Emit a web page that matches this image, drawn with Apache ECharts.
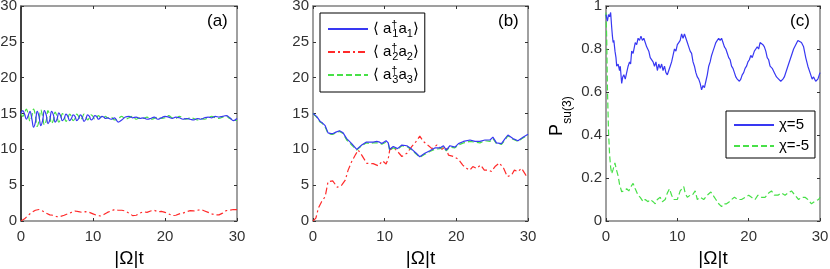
<!DOCTYPE html>
<html>
<head>
<meta charset="utf-8">
<script src="https://cdn.jsdelivr.net/npm/echarts@6/dist/echarts.min.js"></script>
<style>html,body{margin:0;padding:0;background:#fff;}#c{width:830px;height:269px;}</style>
</head>
<body>
<div id="c"></div>
<script>
// ---------- DATA ----------
const xTicks = [0, 10, 20, 30];
// Panel (a): shared time axis
const tA = [0,0.25,0.5,0.75,1,1.25,1.5,1.75,2,2.25,2.5,2.75,3,3.25,3.5,3.75,4,4.25,4.5,4.75,5,5.25,5.5,5.75,6,6.25,6.5,6.75,7,7.25,7.5,7.75,8,8.25,8.5,8.75,9,9.25,9.5,9.75,10,10.25,10.5,10.75,11,11.25,11.5,11.75,12,
  12.5,13,13.5,14,14.5,15,15.5,16,16.5,17,17.5,18,18.5,19,19.5,20,20.5,21,21.5,22,22.5,23,23.5,24,24.5,25,25.5,26,26.5,27,27.5,28,28.5,29,29.5,30];
const a1A = [15.0,15.4,14.9,14.2, 14.7,15.3,14.3,13.1, 13.8,15.3,14.6,13.3, 14.0,15.4,14.8,13.6, 14.1,15.3,14.8,13.8, 14.2,15.1,14.7,14.0, 14.3,14.9,14.6,14.0, 14.3,14.8,14.6,14.0, 14.3,14.8,14.5,13.9, 14.2,14.8,14.6,14.1, 14.3,14.7,14.6,14.2, 14.4,14.6,14.5,14.3, 14.4,
  14.2,14.4,13.8,14.1,14.5,14.6,14.4,14.5,14.3,14.4,14.2,14.3,14.5,14.2,14.4,14.6,14.5,14.3,14.5,14.4,14.2,14.3,14.2,14.1,14.3,14.2,14.4,14.5,14.4,14.6,14.5,14.6,14.7,14.4,14.0,14.3];
const a3A = [15.0,14.6,15.1,15.6, 14.9,13.9,14.6,15.6, 14.7,13.2,14.0,15.5, 14.6,13.4,14.0,15.4, 14.7,13.6,14.1,15.2, 14.6,13.8,14.2,15.0, 14.6,13.9,14.3,14.9, 14.6,14.0,14.3,14.9, 14.6,14.1,14.4,14.9, 14.6,14.1,14.4,14.8, 14.6,14.2,14.4,14.7, 14.5,14.3,14.4,14.6, 14.4,
  14.5,14.1,14.3,14.6,14.2,14.4,14.6,14.2,14.4,14.3,14.5,14.2,14.3,14.5,14.3,14.4,14.7,14.4,14.3,14.6,14.4,14.2,14.4,14.3,14.1,14.3,14.2,14.4,14.6,14.4,14.3,14.5,14.6,14.3,14.1,14.0];
const a2A = [[0,0],[0.5,0.3],[1,0.8],[1.5,1.2],[2,1.5],[2.5,1.6],[3,1.4],[3.5,1.1],[4,0.85],[4.5,0.8],[5,0.6],[5.5,0.65],[6,0.8],[6.5,1.0],[7,1.2],[7.5,1.4],[8,1.3],[8.5,1.2],[9,1.3],[9.5,1.2],[10,1.0],[10.5,0.8],[11,0.7],[11.5,0.9],[12,1.2],[12.5,1.4],[13,1.6],[13.5,1.5],[14,1.5],[14.5,1.4],[15,1.1],[15.5,0.75],[16,0.8],[16.5,1.1],[17,1.3],[17.5,1.2],[18,1.4],[18.5,1.5],[19,1.3],[19.5,1.35],[20,1.2],[20.5,1.0],[21,0.75],[21.5,0.8],[22,1.0],[22.5,1.1],[23,1.3],[23.5,1.45],[24,1.4],[24.5,1.5],[25,1.6],[25.5,1.4],[26,1.2],[26.5,1.0],[27,0.85],[27.5,0.85],[28,1.1],[28.5,1.45],[29,1.5],[29.5,1.6],[30,1.6]];

// Panel (b)
const tB = [0,0.5,1.0,1.3,1.7,2.1,2.5,2.8,3.2,3.7,4.2,4.7,5.4,6.1,6.8,7.4,7.9,8.4,8.9,9.3,9.6,10.2,10.5,10.7,11.2,11.8,12.4,13.1,13.8,14.4,14.9,15.6,16.3,17.0,17.7,18.2,18.6,19.1,19.8,20.3,21.0,21.9,22.6,23.3,24.0,24.7,25.1,25.6,26.3,26.8,27.2,27.9,28.6,29.3,30.0];
const a1B = [15.0,14.6,13.9,13.7,13.3,12.3,12.2,12.2,12.4,12.6,12.3,11.5,10.8,10.0,10.6,11.0,11.0,11.0,11.1,11.0,10.8,11.2,10.9,10.0,10.4,10.1,10.6,10.5,10.0,9.45,8.97,9.45,9.8,10.2,10.2,10.5,9.9,10.5,10.3,10.8,11.1,11.3,11.1,11.1,11.3,11.3,11.7,10.9,10.8,11.5,12.0,11.5,11.2,11.7,12.1];
const a3B = [15.0,14.5,13.8,13.6,13.1,12.2,12.1,12.1,12.3,12.5,12.2,11.3,10.6,9.9,10.5,10.9,10.8,10.9,10.9,10.9,10.7,11.0,10.8,9.8,10.2,10.0,10.5,10.4,9.9,9.35,8.9,9.3,9.7,10.0,10.1,10.3,9.8,10.3,10.2,10.6,10.9,11.1,11.0,10.9,11.2,11.1,11.5,10.8,10.7,11.3,11.9,11.4,11.1,11.6,12.0];
const a2B = [[0,0],[0.4,0.4],[0.75,1.8],[1.2,2.7],[1.7,3.4],[2.1,5.5],[2.75,5.6],[3.4,4.7],[4.0,5.0],[4.5,5.7],[4.9,7.1],[5.4,8.3],[5.9,9.2],[6.3,9.9],[6.8,9.2],[7.5,8.05],[8.4,8.0],[9.1,7.7],[9.7,8.4],[10.2,7.95],[10.5,8.7],[10.7,9.9],[11.2,10.3],[11.8,9.7],[12.4,9.0],[13.1,9.45],[13.8,10.4],[14.4,11.1],[14.9,11.85],[15.4,11.1],[16.0,10.6],[16.6,10.1],[17.3,10.6],[18.0,10.0],[18.5,10.4],[18.9,9.2],[19.6,9.0],[20.3,8.6],[20.9,7.8],[21.4,7.35],[21.9,7.1],[22.3,7.6],[22.8,7.35],[23.4,7.8],[23.9,7.1],[24.5,7.1],[24.9,6.9],[25.4,7.6],[26.0,8.1],[26.6,7.35],[27.1,6.2],[27.7,6.4],[28.1,7.1],[28.6,6.9],[29.1,7.35],[29.7,6.4],[30,6.2]];

// Panel (c)
const pPlus = [[0,0.96],[0.2,0.93],[0.35,0.96],[0.5,0.95],[0.65,0.97],[0.8,0.90],[0.9,0.86],[1.0,0.83],[1.1,0.84],[1.26,0.79],[1.4,0.76],[1.5,0.72],[1.7,0.73],[1.9,0.70],[2.0,0.72],[2.2,0.64],[2.35,0.67],[2.5,0.68],[2.7,0.66],[2.9,0.69],[3.1,0.72],[3.3,0.74],[3.45,0.73],[3.6,0.79],[3.8,0.78],[4.1,0.83],[4.3,0.82],[4.5,0.85],[4.7,0.84],[4.9,0.86],[5.1,0.84],[5.3,0.85],[5.5,0.83],[5.7,0.81],[6.0,0.79],[6.2,0.76],[6.4,0.76],[6.6,0.74],[6.8,0.72],[7.0,0.74],[7.2,0.70],[7.4,0.73],[7.6,0.71],[7.8,0.73],[8.0,0.70],[8.2,0.72],[8.4,0.69],[8.6,0.68],[8.8,0.70],[9.0,0.72],[9.2,0.74],[9.4,0.77],[9.6,0.80],[9.8,0.79],[10.0,0.82],[10.2,0.83],[10.4,0.84],[10.6,0.87],[10.8,0.85],[11.0,0.87],[11.2,0.85],[11.4,0.83],[11.6,0.81],[11.8,0.79],[12.0,0.78],[12.2,0.74],[12.4,0.72],[12.6,0.69],[12.8,0.67],[13.0,0.66],[13.2,0.64],[13.4,0.61],[13.6,0.63],[13.8,0.62],[14.0,0.65],[14.2,0.68],[14.4,0.72],[14.6,0.74],[14.8,0.77],[15.0,0.79],[15.2,0.81],[15.4,0.83],[15.6,0.84],[15.8,0.85],[16.0,0.84],[16.2,0.85],[16.4,0.83],[16.6,0.81],[16.8,0.80],[17.0,0.78],[17.2,0.76],[17.4,0.75],[17.6,0.72],[17.8,0.71],[18.0,0.69],[18.2,0.67],[18.4,0.66],[18.7,0.65],[18.9,0.66],[19.1,0.68],[19.3,0.69],[19.5,0.71],[19.7,0.72],[19.9,0.74],[20.1,0.75],[20.3,0.77],[20.5,0.76],[20.8,0.79],[21.0,0.80],[21.2,0.81],[21.4,0.80],[21.6,0.83],[21.8,0.83],[22.0,0.82],[22.2,0.81],[22.4,0.79],[22.6,0.76],[22.8,0.75],[23.0,0.72],[23.3,0.71],[23.6,0.69],[23.9,0.67],[24.2,0.66],[24.5,0.65],[24.8,0.66],[25.0,0.67],[25.3,0.70],[25.6,0.73],[26.0,0.77],[26.3,0.80],[26.6,0.82],[26.9,0.84],[27.1,0.84],[27.4,0.83],[27.7,0.81],[28.0,0.76],[28.3,0.72],[28.6,0.69],[28.9,0.66],[29.1,0.67],[29.4,0.65],[29.7,0.66],[30.0,0.69]];
const pMinus = [[0,0.97],[0.1,0.85],[0.2,0.62],[0.35,0.42],[0.5,0.31],[0.65,0.25],[0.8,0.22],[1.0,0.24],[1.25,0.27],[1.45,0.24],[1.7,0.21],[1.9,0.17],[2.2,0.136],[2.5,0.14],[2.9,0.15],[3.2,0.14],[3.5,0.16],[3.8,0.175],[4.1,0.15],[4.5,0.12],[4.8,0.11],[5.2,0.09],[5.5,0.10],[5.9,0.09],[6.2,0.10],[6.6,0.09],[6.9,0.08],[7.2,0.10],[7.6,0.11],[7.9,0.09],[8.3,0.10],[8.6,0.13],[8.9,0.15],[9.2,0.12],[9.5,0.10],[10.0,0.10],[10.4,0.14],[10.9,0.16],[11.1,0.13],[11.4,0.11],[11.8,0.12],[12.1,0.12],[12.5,0.14],[12.8,0.10],[13.2,0.11],[13.7,0.10],[14.2,0.12],[14.7,0.135],[15.0,0.12],[15.4,0.10],[15.8,0.08],[16.2,0.067],[16.5,0.08],[16.9,0.08],[17.3,0.09],[17.6,0.10],[18.0,0.11],[18.5,0.10],[19.0,0.10],[19.5,0.11],[20.0,0.12],[20.4,0.11],[20.9,0.10],[21.3,0.12],[21.8,0.11],[22.3,0.11],[22.8,0.13],[23.2,0.14],[23.6,0.12],[24.1,0.12],[24.6,0.13],[25.1,0.12],[25.5,0.13],[26.0,0.14],[26.5,0.12],[27.0,0.10],[27.4,0.11],[27.9,0.11],[28.3,0.10],[28.8,0.08],[29.2,0.09],[29.8,0.10],[30.0,0.11]];

// ---------- CHART ----------
const zip = (t, v) => t.map((x, i) => [x, v[i]]);
const FONT = 'Liberation Sans, Arial, DejaVu Sans, sans-serif';
const BLUE = '#3838f2', RED = '#ff2a2a', GREEN = '#48e048';
const AX = '#808080';

const grids = [
  {left: 21, top: 6, width: 216, height: 215},
  {left: 313, top: 6, width: 215, height: 215},
  {left: 606, top: 6, width: 214, height: 215}
].map(g => Object.assign({outerBoundsMode: 'none', containLabel: false}, g));

function xAx(gi, pos) {
  const main = pos === 'bottom';
  return {
    type: 'value', gridIndex: gi, position: pos, min: 0, max: 30, interval: 10,
    name: main ? '|Ω|t' : '', nameLocation: 'middle', nameGap: 23,
    nameTextStyle: {fontFamily: FONT, fontSize: 19, color: '#000'},
    axisLine: {show: true, onZero: false, lineStyle: {color: AX, width: 1.5}},
    axisTick: {show: true, inside: true, length: 3, lineStyle: {color: '#333'}},
    axisLabel: {show: main, margin: 8, fontFamily: FONT, fontSize: 15, color: '#333'},
    splitLine: {show: false}
  };
}
function yAx(gi, pos, max, interval, lineColor) {
  const main = pos === 'left';
  return {
    type: 'value', gridIndex: gi, position: pos, min: 0, max: max, interval: interval,
    axisLine: {show: true, onZero: false, lineStyle: {color: lineColor || AX, width: 1.5}},
    axisTick: {show: true, inside: true, length: 3, lineStyle: {color: '#333'}},
    axisLabel: {show: main, margin: 4, fontFamily: FONT, fontSize: 15, color: '#333'},
    splitLine: {show: false}
  };
}

const lineS = (name, xi, data, color, type, z) => ({
  name: name, type: 'line', xAxisIndex: xi, yAxisIndex: xi, data: data,
  symbol: 'none', smooth: false, silent: true, z: z || 2,
  lineStyle: {color: color, width: 1.2, type: type || 'solid'},
  itemStyle: {color: color}
});

const supSub = i => `{t|⟨ a}{s|†}{b|${i}}{t|a}{b|${i}}{t|⟩}`;
const hiddenSymbol = {color: 'rgba(0,0,0,0)', borderWidth: 0, opacity: 0};

const option = {
  animation: false,
  backgroundColor: '#fff',
  grid: grids,
  xAxis: [xAx(0,'bottom'), xAx(0,'top'), xAx(1,'bottom'), xAx(1,'top'), xAx(2,'bottom'), xAx(2,'top')],
  yAxis: [yAx(0,'left',30,5,'#000'), yAx(0,'right',30,5), yAx(1,'left',30,5), yAx(1,'right',30,5), yAx(2,'left',1,0.2), yAx(2,'right',1,0.2)],
  legend: [
    {
      data: ['a1', 'a2', 'a3'], orient: 'vertical', left: 320, top: 13,
      itemWidth: 40, itemHeight: 20, itemGap: 3, padding: [6, 6, 7, 7],
      borderColor: '#000', borderWidth: 1, backgroundColor: '#fff',
      selectedMode: false, itemStyle: hiddenSymbol,
      formatter: n => supSub(n.slice(1)),
      textStyle: {
        fontFamily: FONT, color: '#000',
        rich: {
          t: {fontFamily: FONT, fontSize: 15, lineHeight: 20, color: '#000'},
          s: {fontFamily: FONT, fontSize: 11, lineHeight: 11, verticalAlign: 'top', width: 1, color: '#000'},
          b: {fontFamily: FONT, fontSize: 11, lineHeight: 10, verticalAlign: 'bottom', color: '#000'}
        }
      }
    },
    {
      data: ['χ=5', 'χ=-5'], orient: 'vertical', left: 726, top: 111,
      itemWidth: 40, itemHeight: 20, itemGap: 1, padding: [4, 6, 2, 7],
      borderColor: '#000', borderWidth: 1, backgroundColor: '#fff',
      selectedMode: false, itemStyle: hiddenSymbol,
      textStyle: {fontFamily: FONT, fontSize: 15, lineHeight: 20, color: '#000'}
    }
  ],
  graphic: [
    {type: 'text', left: 207, top: 13, style: {text: '(a)', font: '17px ' + FONT, fill: '#000'}},
    {type: 'text', left: 498, top: 13, style: {text: '(b)', font: '17px ' + FONT, fill: '#000'}},
    {type: 'text', left: 790, top: 13, style: {text: '(c)', font: '17px ' + FONT, fill: '#000'}},
    {type: 'text', x: 557, y: 130, rotation: Math.PI / 2,
      style: {text: 'P', font: '18px ' + FONT, fill: '#000', align: 'center', verticalAlign: 'middle'}},
    {type: 'text', x: 568, y: 110, rotation: Math.PI / 2,
      style: {text: 'su(3)', font: '12px ' + FONT, fill: '#000', align: 'center', verticalAlign: 'middle'}}
  ],
  series: [
    lineS('a2 (a)', 0, a2A, RED, [7, 3, 2, 3], 1),
    lineS('a3 (a)', 0, zip(tA, a3A), GREEN, [6, 3], 2),
    lineS('a1 (a)', 0, zip(tA, a1A), BLUE, 'solid', 3),
    lineS('a2', 2, a2B, RED, [7, 3, 2, 3], 1),
    lineS('a3', 2, zip(tB, a3B), GREEN, [6, 3], 2),
    lineS('a1', 2, zip(tB, a1B), BLUE, 'solid', 3),
    lineS('χ=5', 4, pPlus, BLUE, 'solid', 3),
    lineS('χ=-5', 4, pMinus, GREEN, [6, 3], 2)
  ]
};
option.series[1].smooth = 0.4;
option.series[2].smooth = 0.4;
const chart = echarts.init(document.getElementById('c'), null, {renderer: 'canvas'});
chart.setOption(option);
</script>
</body>
</html>
